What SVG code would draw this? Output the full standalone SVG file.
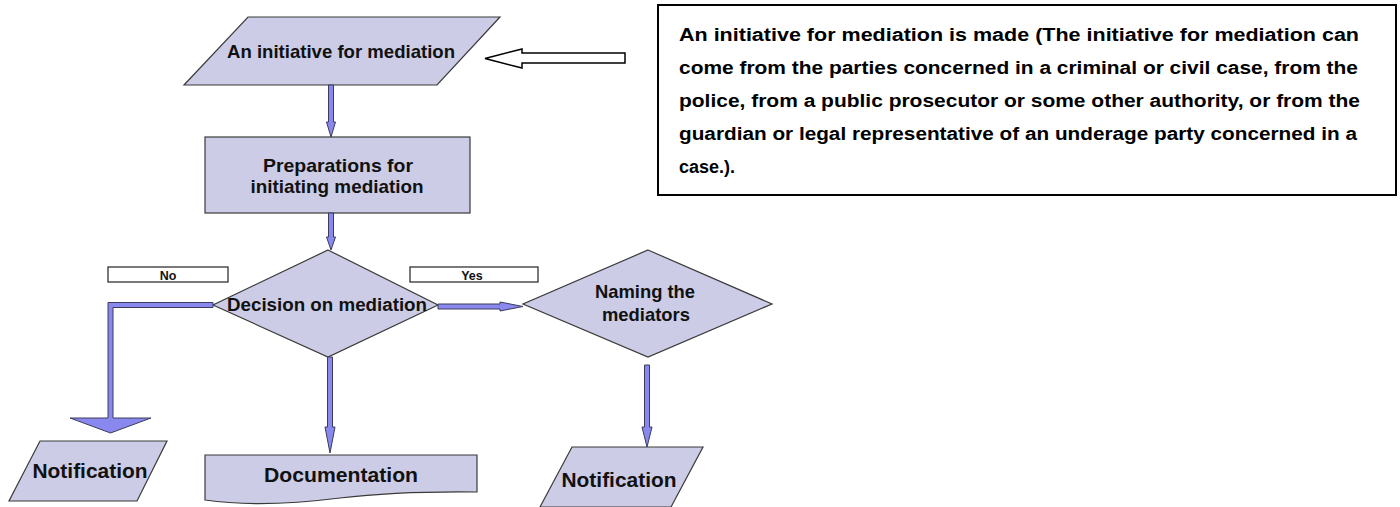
<svg xmlns="http://www.w3.org/2000/svg" width="1400" height="507" viewBox="0 0 1400 507">
<style>
.shape{fill:#CCCCE6;stroke:#3a3a3a;stroke-width:1.2}
.t{font-family:"Liberation Sans",Arial,sans-serif;font-weight:bold;fill:#111;text-anchor:middle}
.lbl{fill:#fff;stroke:#222;stroke-width:1.2}
.conn{fill:#8888EE;stroke:#3c3c5a;stroke-width:1}
.note{font-family:"Liberation Sans",Arial,sans-serif;font-weight:bold;font-size:18px;fill:#000}
</style>
<rect width="1400" height="507" fill="#fff"/>

<g id="node-initiative">
<polygon class="shape" points="248,17 500,17 437,85 184,85"/>
<text class="t" x="341" y="58" font-size="18.5" textLength="228" lengthAdjust="spacingAndGlyphs">An initiative for mediation</text>
</g>

<g id="node-preparations">
<rect class="shape" x="205" y="137" width="265" height="76"/>
<text class="t" x="338" y="172" font-size="19" textLength="150" lengthAdjust="spacingAndGlyphs">Preparations for</text>
<text class="t" x="337" y="193" font-size="19" textLength="173" lengthAdjust="spacingAndGlyphs">initiating mediation</text>
</g>

<g id="node-decision">
<polygon class="shape" points="328,250 438,305 328,357 213,305"/>
<text class="t" x="327" y="311" font-size="18.7" textLength="200" lengthAdjust="spacingAndGlyphs">Decision on mediation</text>
</g>

<g id="node-naming">
<polygon class="shape" points="648,250 772,304 648,357 523,304"/>
<text class="t" x="645" y="298" font-size="18.4" textLength="100" lengthAdjust="spacingAndGlyphs">Naming the</text>
<text class="t" x="646" y="321" font-size="18.4" textLength="88" lengthAdjust="spacingAndGlyphs">mediators</text>
</g>

<g id="node-notification-left">
<polygon class="shape" points="40,441 167,441 137,501 9,501"/>
<text class="t" x="90" y="478" font-size="20.5" textLength="115" lengthAdjust="spacingAndGlyphs">Notification</text>
</g>

<g id="node-documentation">
<path class="shape" d="M205,455 L477,455 L477,492 Q400,491 340,498 Q260,508 205,500 Z"/>
<text class="t" x="341" y="482" font-size="20" textLength="154" lengthAdjust="spacingAndGlyphs">Documentation</text>
</g>

<g id="node-notification-right">
<polygon class="shape" points="572,447 703,447 671,507 540,507"/>
<text class="t" x="619" y="487" font-size="20.5" textLength="115" lengthAdjust="spacingAndGlyphs">Notification</text>
</g>

<g id="node-no">
<rect class="lbl" x="108" y="267" width="120" height="15"/>
<text class="t" x="168" y="279.5" font-size="12.5">No</text>
</g>

<g id="node-yes">
<rect class="lbl" x="410" y="267" width="128" height="15"/>
<text class="t" x="472" y="279.5" font-size="12.5">Yes</text>
</g>

<g id="node-note">
<rect x="658" y="5" width="738" height="190" fill="#fff" stroke="#000" stroke-width="2"/>
<text class="note" x="679" y="41" textLength="680" lengthAdjust="spacingAndGlyphs">An initiative for mediation is made (The initiative for mediation can</text>
<text class="note" x="679" y="74" textLength="679" lengthAdjust="spacingAndGlyphs">come from the parties concerned in a criminal or civil case, from the</text>
<text class="note" x="679" y="107" textLength="681" lengthAdjust="spacingAndGlyphs">police, from a public prosecutor or some other authority, or from the</text>
<text class="note" x="679" y="140" textLength="678" lengthAdjust="spacingAndGlyphs">guardian or legal representative of an underage party concerned in a</text>
<text class="note" x="679" y="173">case.).</text>
</g>

<g id="connectors">
<polygon points="625,53 522,53 522,49 485,58.5 522,68 522,63 625,63" fill="#fff" stroke="#000" stroke-width="1.5"/>
<polygon class="conn" points="328.5,85 333.5,85 333.5,122 335.5,122 331,137 326.5,122 328.5,122"/>
<polygon class="conn" points="328.5,213 333.5,213 333.5,237 335.5,237 331,250 326.5,237 328.5,237"/>
<polygon class="conn" points="213,302.5 108,302.5 108,418 70,418 110.5,433 151,418 113,418 113,307.5 213,307.5"/>
<polygon class="conn" points="327.5,357 332.5,357 332.5,427 335,427 330,453 325,427 327.5,427"/>
<polygon class="conn" points="438,304 500,304 500,302 523,306.5 500,311 500,309 438,309"/>
<polygon class="conn" points="644.5,365 649.5,365 649.5,427 652,427 647,447 642,427 644.5,427"/>
</g>
</svg>
